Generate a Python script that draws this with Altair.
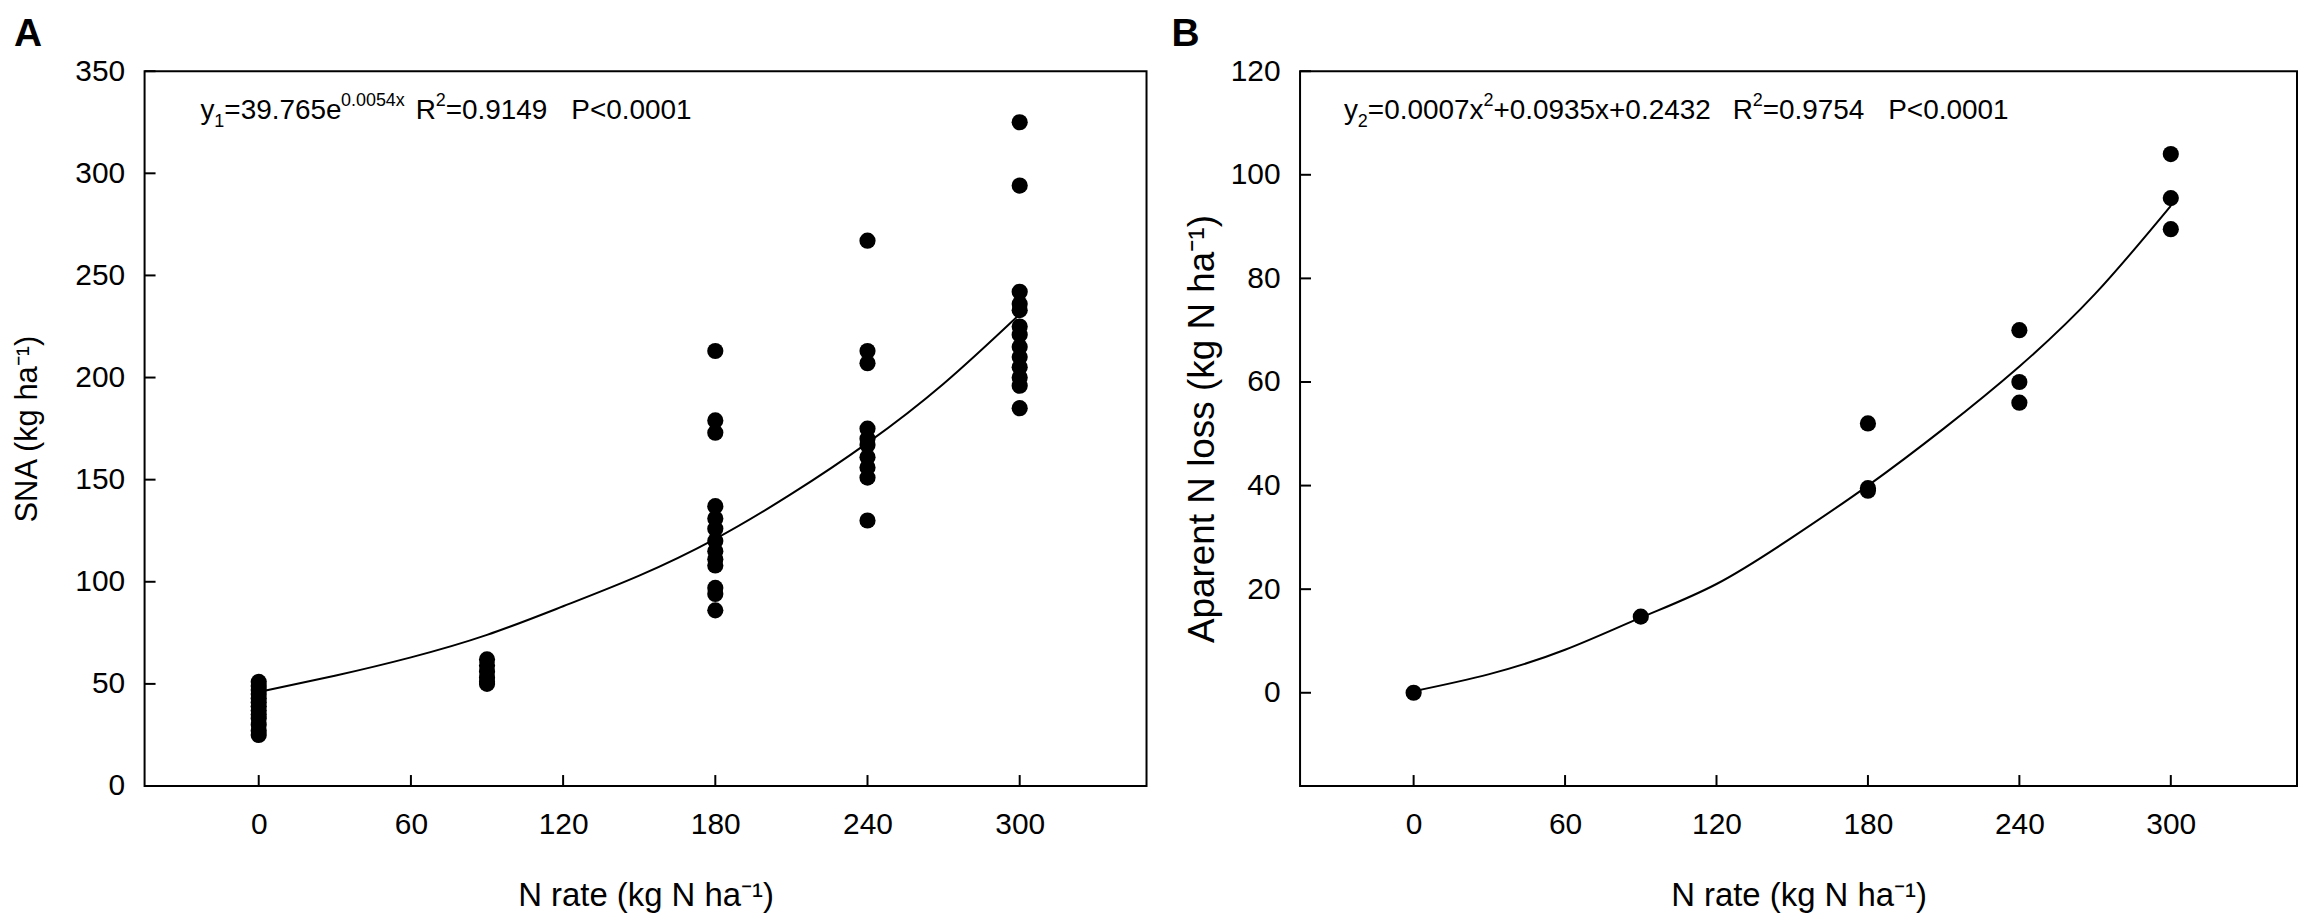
import altair as alt
import pandas as pd

FONT = "Liberation Sans"

# ---------------- data ----------------
x_ticks = [0, 60, 120, 180, 240, 300]
a_y_ticks = [0, 50, 100, 150, 200, 250, 300, 350]
b_y_ticks = [0, 20, 40, 60, 80, 100, 120]

# Panel A: SNA (kg ha-1) by N rate
a_y_0 = [51, 49, 47, 45, 43, 41, 39, 37, 35, 33, 30, 27, 25]
a_y_90 = [62, 59, 56, 53, 51, 50]
a_y_180 = [213, 179, 173, 137, 131, 126, 120, 115, 111, 108, 97, 94, 86]
a_y_240 = [267, 213, 207, 175, 170, 167, 161, 156, 151, 130]
a_y_300 = [325, 294, 242, 236, 233, 225, 221, 215, 210, 205, 200, 196, 185]

# Panel B: apparent N loss
b_y_0 = [0]
b_y_90 = [14.7]
b_y_180 = [52, 39.5, 39]
b_y_240 = [70, 60, 56]
b_y_300 = [104, 95.5, 89.5]

# fitted curves
curve_x = [0, 30, 60, 90, 120, 150, 180, 210, 240, 270, 300]
a_curve_y = [46, 54, 63, 74, 88, 103, 121, 143, 168, 197, 231]
b_curve_y = [0.3, 3.6, 8.3, 14.5, 21, 30, 40, 51, 63, 77, 94]


def groups_to_df(groups):
    xs, ys = [], []
    for rate, vals in groups:
        for v in vals:
            xs.append(rate)
            ys.append(v)
    return pd.DataFrame({"x": xs, "y": ys})


a_pts = groups_to_df([(0, a_y_0), (90, a_y_90), (180, a_y_180), (240, a_y_240), (300, a_y_300)])
b_pts = groups_to_df([(0, b_y_0), (90, b_y_90), (180, b_y_180), (240, b_y_240), (300, b_y_300)])
a_curve = pd.DataFrame({"x": curve_x, "y": a_curve_y})
b_curve = pd.DataFrame({"x": curve_x, "y": b_curve_y})

XDOM = [-45, 350]
H = 717
one = pd.DataFrame({"k": [0]})


def seg(text, x, y, size, bold=False):
    return alt.Chart(one).mark_text(
        text=text, align="left", baseline="alphabetic", fontSize=size,
        font=FONT, color="black", fontWeight="bold" if bold else "normal"
    ).encode(x=alt.value(x), y=alt.value(y))


def panel(pts_df, curve_df, ydom, yticks, ytitle, width, title_size, title_pad, segs):
    xs = alt.Scale(domain=XDOM, nice=False, zero=False)
    ys = alt.Scale(domain=ydom, nice=False, zero=False)
    x_axis = alt.Axis(values=x_ticks, title="N rate (kg N ha⁻¹)", ticks=False, domain=False,
                      grid=False, labelFontSize=30, labelPadding=24, titleFontSize=33,
                      titlePadding=40, labelFont=FONT, titleFont=FONT, labelColor="black",
                      titleColor="black", titleFontWeight="normal", labelFlush=False)
    y_axis = alt.Axis(values=yticks, title=ytitle, ticks=False, domain=False, grid=False,
                      labelFontSize=30, labelPadding=20, titleFontSize=title_size,
                      titlePadding=title_pad, labelFont=FONT, titleFont=FONT,
                      labelColor="black", titleColor="black", titleFontWeight="normal",
                      labelFlush=False)
    pts = alt.Chart(pts_df).mark_circle(size=263, color="black", opacity=1).encode(
        x=alt.X("x:Q", scale=xs, axis=x_axis), y=alt.Y("y:Q", scale=ys, axis=y_axis))
    line = alt.Chart(curve_df).mark_line(color="black", strokeWidth=2, interpolate="natural").encode(
        x=alt.X("x:Q", scale=xs), y=alt.Y("y:Q", scale=ys))
    xt = alt.Chart(pd.DataFrame({"x": x_ticks})).mark_rule(color="black", strokeWidth=2).encode(
        x=alt.X("x:Q", scale=xs), y=alt.value(H), y2=alt.value(H - 11))
    yt = alt.Chart(pd.DataFrame({"y": yticks})).mark_rule(color="black", strokeWidth=2).encode(
        y=alt.Y("y:Q", scale=ys), x=alt.value(0), x2=alt.value(11))
    return alt.layer(pts, line, xt, yt, *segs).properties(width=width, height=H)


a_segs = [
    seg("A", -131, -25, 39, bold=True),
    seg("y", 56, 48, 28),
    seg("1", 70, 56, 18),
    seg("=39.765e", 80, 48, 28),
    seg("0.0054x", 197, 35, 18),
    seg("R", 272, 48, 28),
    seg("2", 292, 35, 18),
    seg("=0.9149", 302, 48, 28),
    seg("P<0.0001", 428, 48, 28),
]
b_segs = [
    seg("B", -129, -25, 39, bold=True),
    seg("y", 44, 48, 28),
    seg("2", 58, 56, 18),
    seg("=0.0007x", 68, 48, 28),
    seg("2", 184, 35, 18),
    seg("+0.0935x+0.2432", 194, 48, 28),
    seg("R", 434, 48, 28),
    seg("2", 454, 35, 18),
    seg("=0.9754", 464, 48, 28),
    seg("P<0.0001", 590, 48, 28),
]

chart_a = panel(a_pts, a_curve, [0, 350], a_y_ticks, "SNA (kg ha⁻¹)", 1005, 31, 31, a_segs)
chart_b = panel(b_pts, b_curve, [-18, 120], b_y_ticks, "Aparent N loss (kg N ha⁻¹)", 1000, 37, 9, b_segs)

chart = alt.hconcat(chart_a, chart_b, spacing=23).properties(
    padding={"left": 2, "top": 5, "right": 0, "bottom": 0}, background="white"
).configure_view(stroke="black", strokeWidth=2)

chart.save("out.html", embed_options={"renderer": "svg", "actions": False})
